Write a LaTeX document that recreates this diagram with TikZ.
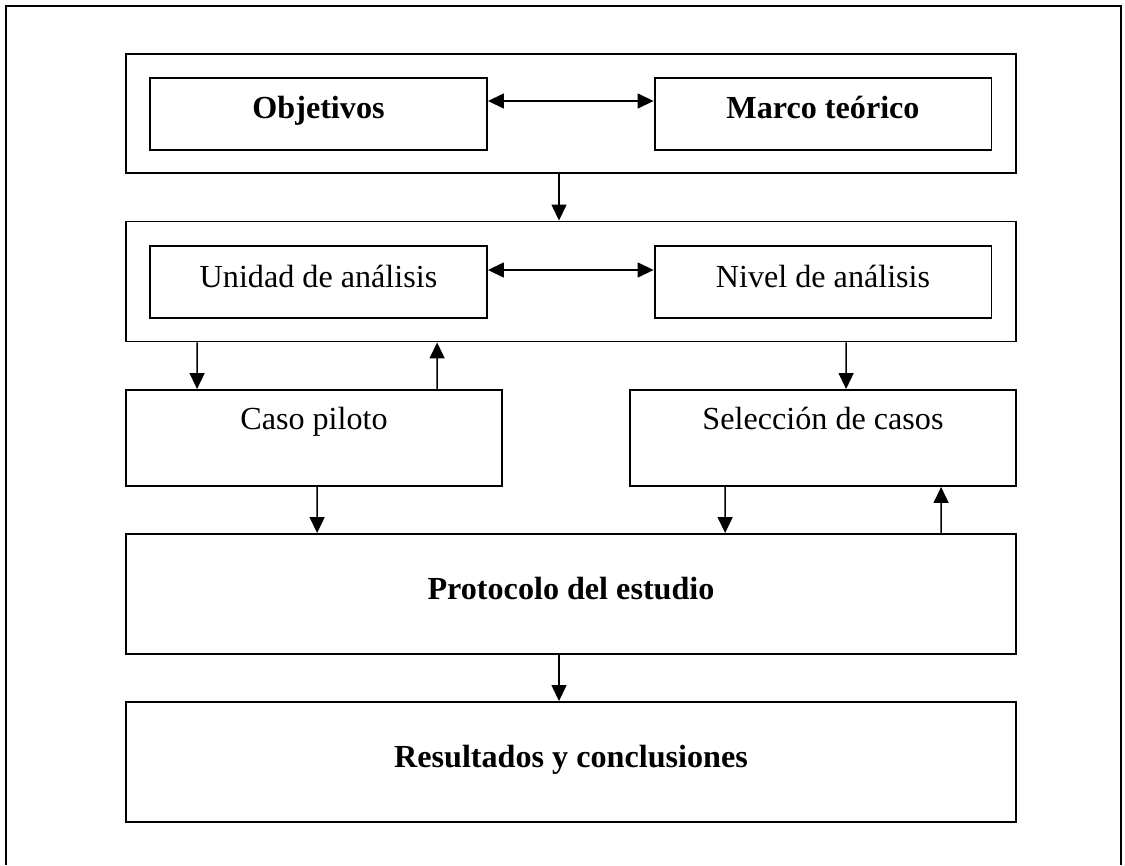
\documentclass[tikz,border=0pt]{standalone}
\usepackage{fontspec}
\setmainfont{Liberation Serif}
\usetikzlibrary{arrows.meta,calc,positioning}

\begin{document}
\begin{tikzpicture}[x=0.02cm,y=-0.02cm,
    caja/.style={draw,line width=1.1pt,inner sep=0pt},
    texto/.style={inner sep=0pt,text height=0.48cm,text depth=0.28cm,font=\fontsize{18.3}{22}\selectfont},
    flecha/.style={line width=0.8pt,-{Triangle[length=0.32cm,width=0.3cm]}},
    dflecha/.style={line width=0.8pt,{Triangle[length=0.32cm,width=0.3cm]}-{Triangle[length=0.32cm,width=0.3cm]}}]
  \useasboundingbox (0,0) rectangle (1125,865);

  % marco exterior
  \draw [line width=1.3pt] (6,865) -- (6,6) -- (1121,6) -- (1121,865);

  \node (grupoA) at (571,113.5) [caja,minimum width=17.8cm,minimum height=2.38cm] {};
  \node (obj) at (318.5,114) [caja,texto,minimum width=6.74cm,minimum height=1.44cm] {\bfseries Objetivos};
  \node (marco) at (823,114) [caja,texto,minimum width=6.74cm,minimum height=1.44cm] {\bfseries Marco teórico};

  \node (grupoB) at (571,281.5) [caja,minimum width=17.8cm,minimum height=2.4cm] {};
  \node (unidad) at (318.5,282) [caja,texto,minimum width=6.74cm,minimum height=1.44cm] {Unidad de análisis};
  \node (nivel) at (823,282) [caja,texto,minimum width=6.74cm,minimum height=1.44cm] {Nivel de análisis};

  \node (caso) at (314,438) [caja,minimum width=7.52cm,minimum height=1.92cm] {};
  \node (casotxt) [texto,below=0.32cm of caso.north] {Caso piloto};
  \node (sel) at (823,438) [caja,minimum width=7.72cm,minimum height=1.92cm] {};
  \node (seltxt) [texto,below=0.32cm of sel.north] {Selección de casos};

  \node (proto) at (571,594) [caja,texto,minimum width=17.8cm,minimum height=2.4cm] {\bfseries Protocolo del estudio};
  \node (result) at (571,762) [caja,texto,minimum width=17.8cm,minimum height=2.4cm] {\bfseries Resultados y conclusiones};

  \draw [dflecha] ([yshift=0.26cm]obj.east) -- ([yshift=0.26cm]marco.west);
  \draw [dflecha] ([yshift=0.24cm]unidad.east) -- ([yshift=0.24cm]nivel.west);

  \draw [flecha] ([xshift=-0.24cm]grupoA.south) -- ([xshift=-0.24cm]grupoB.north);

  \draw [flecha] ($(grupoB.south west)+(72,0)$) -- ($(caso.north west)+(72,0)$);
  \draw [flecha] ($(caso.north west)+(312,0)$) -- ($(grupoB.south west)+(312,0)$);
  \draw [flecha] ($(grupoB.south west)+(721,0)$) -- ($(sel.north west)+(217,0)$);

  \draw [flecha] ($(caso.south west)+(192,0)$) -- ($(proto.north west)+(192,0)$);
  \draw [flecha] ($(sel.south west)+(96,0)$) -- ($(proto.north west)+(600,0)$);
  \draw [flecha] ($(proto.north west)+(816,0)$) -- ($(sel.south west)+(312,0)$);

  \draw [flecha] ([xshift=-0.24cm]proto.south) -- ([xshift=-0.24cm]result.north);
\end{tikzpicture}
\end{document}
